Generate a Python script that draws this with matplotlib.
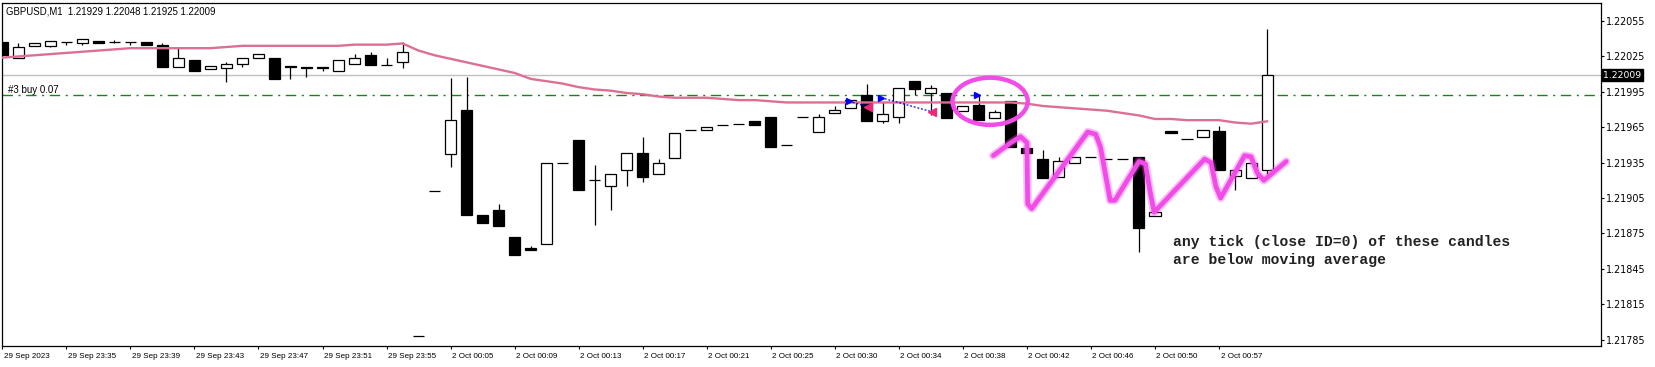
import numpy as np
import matplotlib
matplotlib.use("Agg")
import matplotlib.pyplot as plt
from matplotlib.patches import Ellipse
from matplotlib.transforms import blended_transform_factory, ScaledTranslation

# ---- data (GBPUSD M1) ----
opens = [1.22037, 1.22024, 1.22034, 1.22034, 1.22037, 1.22036, 1.22038, 1.22037, 1.22037, 1.22037,
         1.22035, 1.22016, 1.22022, 1.22014, 1.22015, 1.22019, 1.22024, 1.22024, 1.22017, 1.22016,
         1.22016, 1.22013, 1.22019, 1.22026, 1.22018, 1.22020, 1.21788, 1.21911, 1.21942, 1.21980,
         1.21891, 1.21895, 1.21872, 1.21863, 1.21866, 1.21935, 1.21954, 1.21920, 1.21915, 1.21929,
         1.21943, 1.21925, 1.21939, 1.21963, 1.21963, 1.21967, 1.21968, 1.21970, 1.21974, 1.21950,
         1.21974, 1.21961, 1.21977, 1.21981, 1.21992, 1.21970, 1.21974, 1.22004, 1.21994, 1.21994,
         1.21979, 1.21984, 1.21973, 1.21987, 1.21947, 1.21938, 1.21923, 1.21935, 1.21940, 1.21938,
         1.21938, 1.21940, 1.21890, 1.21962, 1.21955, 1.21957, 1.21962, 1.21924, 1.21922, 1.21929]
highs = [1.22037, 1.22036, 1.22036, 1.22038, 1.22037, 1.22040, 1.22038, 1.22039, 1.22037, 1.22037,
         1.22036, 1.22032, 1.22022, 1.22017, 1.22020, 1.22024, 1.22027, 1.22024, 1.22017, 1.22016,
         1.22016, 1.22022, 1.22027, 1.22029, 1.22024, 1.22037, 1.21788, 1.21911, 1.22007, 1.22008,
         1.21891, 1.21900, 1.21872, 1.21864, 1.21935, 1.21935, 1.21954, 1.21933, 1.21925, 1.21943,
         1.21957, 1.21938, 1.21960, 1.21963, 1.21965, 1.21967, 1.21968, 1.21970, 1.21974, 1.21950,
         1.21974, 1.21976, 1.21983, 1.21988, 1.22002, 1.21986, 1.21998, 1.22004, 1.22001, 1.21994,
         1.21983, 1.21992, 1.21980, 1.21987, 1.21947, 1.21946, 1.21940, 1.21940, 1.21940, 1.21938,
         1.21938, 1.21940, 1.21893, 1.21962, 1.21955, 1.21963, 1.21966, 1.21929, 1.21935, 1.22048]
lows = [1.22025, 1.22024, 1.22034, 1.22033, 1.22035, 1.22035, 1.22036, 1.22036, 1.22035, 1.22035,
        1.22016, 1.22016, 1.22013, 1.22014, 1.22003, 1.22016, 1.22024, 1.22006, 1.22006, 1.22008,
        1.22013, 1.22013, 1.22019, 1.22018, 1.22018, 1.22015, 1.21788, 1.21911, 1.21931, 1.21891,
        1.21884, 1.21881, 1.21857, 1.21861, 1.21866, 1.21935, 1.21912, 1.21882, 1.21895, 1.21915,
        1.21919, 1.21925, 1.21939, 1.21963, 1.21963, 1.21967, 1.21968, 1.21967, 1.21948, 1.21950,
        1.21974, 1.21961, 1.21977, 1.21981, 1.21970, 1.21969, 1.21969, 1.21992, 1.21975, 1.21973,
        1.21979, 1.21971, 1.21973, 1.21948, 1.21943, 1.21922, 1.21923, 1.21935, 1.21940, 1.21938,
        1.21938, 1.21859, 1.21890, 1.21960, 1.21955, 1.21957, 1.21929, 1.21912, 1.21922, 1.21925]
closes = [1.22026, 1.22033, 1.22036, 1.22038, 1.22037, 1.22040, 1.22036, 1.22037, 1.22037, 1.22035,
          1.22016, 1.22024, 1.22013, 1.22017, 1.22019, 1.22024, 1.22027, 1.22006, 1.22016, 1.22015,
          1.22015, 1.22022, 1.22024, 1.22018, 1.22018, 1.22029, 1.21788, 1.21911, 1.21971, 1.21891,
          1.21884, 1.21881, 1.21857, 1.21861, 1.21935, 1.21935, 1.21912, 1.21920, 1.21925, 1.21943,
          1.21923, 1.21935, 1.21960, 1.21963, 1.21965, 1.21967, 1.21968, 1.21967, 1.21948, 1.21950,
          1.21974, 1.21974, 1.21980, 1.21988, 1.21970, 1.21976, 1.21998, 1.21997, 1.21998, 1.21973,
          1.21983, 1.21971, 1.21978, 1.21948, 1.21943, 1.21922, 1.21936, 1.21940, 1.21940, 1.21938,
          1.21938, 1.21880, 1.21893, 1.21960, 1.21955, 1.21963, 1.21929, 1.21929, 1.21935, 1.22009]
ma = [1.22024, 1.22025, 1.22026, 1.22027, 1.22028, 1.22029, 1.22030, 1.22031, 1.22032, 1.22032,
      1.22032, 1.22032, 1.22032, 1.22032, 1.22033, 1.22034, 1.22034, 1.22034, 1.22034, 1.22034,
      1.22034, 1.22034, 1.22035, 1.22035, 1.22035, 1.22036, 1.22030, 1.22026, 1.22023, 1.22020,
      1.22017, 1.22014, 1.22011, 1.22006, 1.22004, 1.22002, 1.21999, 1.21997, 1.21996, 1.21994,
      1.21993, 1.21991, 1.21990, 1.21990, 1.21990, 1.21989, 1.21988, 1.21988, 1.21987, 1.21986,
      1.21986, 1.21986, 1.21986, 1.21986, 1.21986, 1.21986, 1.21986, 1.21986, 1.21986, 1.21986,
      1.21986, 1.21986, 1.21986, 1.21986, 1.21985, 1.21983, 1.21982, 1.21981, 1.21980, 1.21979,
      1.21977, 1.21975, 1.21972, 1.21972, 1.21971, 1.21971, 1.21971, 1.21969, 1.21968, 1.21970]

time_labels = ["29 Sep 2023", "29 Sep 23:35", "29 Sep 23:39", "29 Sep 23:43", "29 Sep 23:47",
               "29 Sep 23:51", "29 Sep 23:55", "2 Oct 00:05", "2 Oct 00:09", "2 Oct 00:13",
               "2 Oct 00:17", "2 Oct 00:21", "2 Oct 00:25", "2 Oct 00:30", "2 Oct 00:34",
               "2 Oct 00:38", "2 Oct 00:42", "2 Oct 00:46", "2 Oct 00:50", "2 Oct 00:57"]
price_ticks = [1.22055, 1.22025, 1.21995, 1.21965, 1.21935, 1.21905, 1.21875, 1.21845, 1.21815, 1.21785]

bid = 1.22009
position_price = 1.21992
position_label = "#3 buy 0.07"

# deals: bar position (fractional) and price
entry_x = [52.9, 54.9, 60.9]
entry_p = [1.21987, 1.21990, 1.21992]
exit_x = [54.1, 58.1]
exit_p = [1.21982, 1.21978]

# hand drawn pink scribble
scribble_x = [61.9, 63.0, 63.6, 64.0, 64.05, 64.3, 67.8, 68.3, 68.6, 69.2, 69.5, 71.0, 71.4, 71.7, 71.95,
              75.1, 75.5, 75.8, 76.1, 77.6, 78.0, 78.4, 78.8, 80.2]
scribble_p = [1.21941, 1.21952, 1.21957, 1.21952, 1.21900, 1.21896, 1.21961, 1.21959, 1.21948, 1.21903,
              1.21903, 1.21936, 1.21934, 1.21910, 1.21893, 1.21938, 1.21935, 1.21915, 1.21905, 1.21941,
              1.21940, 1.21926, 1.21920, 1.21936]

note_lines = ["any tick (close ID=0) of these candles", "are below moving average"]

# ---- figure ----
W, H = 1655, 367
fig = plt.figure(figsize=(W / 100, H / 100), dpi=100)
ax = fig.add_axes([2 / W, 21 / H, 1599 / W, 343 / H])
ax.set_xlim(-0.02, 99.86)
ax.set_ylim(1.217796, 1.220703)

x = np.arange(len(opens))
o = np.array(opens); c = np.array(closes)
up = c >= o
face = np.where(up, "white", "black")

# level lines under the candles
ax.axhline(bid, color="#c0c0c0", lw=1.0, zorder=1)
ax.axhline(position_price, color="#1f7f1f", lw=1.0, zorder=1,
           linestyle=(0, (7.5, 4.0, 1.5, 4.0)))

ax.vlines(x, lows, highs, color="black", lw=0.9, zorder=2)
ax.bar(x, np.abs(c - o), bottom=np.minimum(o, c), width=0.69, color=face,
       edgecolor="black", linewidth=0.9, zorder=3)

ax.plot(x, ma, color="#db7093", lw=1.7, zorder=4, solid_joinstyle="miter")

# trade arrows
for i in range(len(exit_x)):
    ax.plot([entry_x[i], exit_x[i]], [entry_p[i], exit_p[i]], color="blue", lw=0.9,
            linestyle=(0, (1.5, 1.5)), zorder=5)
ax.plot(entry_x, entry_p, linestyle="none", marker=">", ms=5, color="blue", zorder=6)
ax.plot(exit_x, exit_p, linestyle="none", marker="<", ms=6, color="#f0287a", zorder=6)

# scribble annotations
pink = "#f24ce8"
ax.plot(scribble_x, scribble_p, color=pink, lw=6, alpha=0.35, zorder=7,
        solid_joinstyle="round", solid_capstyle="round")
ax.plot(scribble_x, scribble_p, color=pink, lw=3.4, zorder=8,
        solid_joinstyle="round", solid_capstyle="round")
ell = Ellipse((61.7, 1.21987), 4.7, 0.00040, angle=0, fill=False, edgecolor=pink, lw=3.2, zorder=8)
ax.add_patch(ell)

ax.text(73.1, 1.218677, note_lines[0], family="Liberation Mono", weight="bold",
        fontsize=10.6, color="#222222", va="center", ha="left", zorder=9)
ax.text(73.1, 1.218525, note_lines[1], family="Liberation Mono", weight="bold",
        fontsize=10.6, color="#222222", va="center", ha="left", zorder=9)

# header and position label
ax.text(4 / 1599, 1 - 8 / 343, "GBPUSD,M1  %.5f %.5f %.5f %.5f" % (opens[-1], highs[-1], lows[-1], closes[-1]),
        transform=ax.transAxes, fontsize=6.9, family="Liberation Sans", va="center", ha="left")
ax.text(0.004, position_price, position_label, transform=blended_transform_factory(ax.transAxes, ax.transData),
        fontsize=7.0, family="Liberation Sans", va="bottom", ha="left")
ax.annotate("%.5f" % bid, xy=(1.0, bid), xycoords=blended_transform_factory(ax.transAxes, ax.transData),
            xytext=(1.5, 0), textcoords="offset points", fontsize=6.7, family="DejaVu Sans",
            color="white", va="center", ha="left",
            bbox=dict(boxstyle="square,pad=0.15", fc="black", ec="black"))

# axes styling
for s in ax.spines.values():
    s.set_linewidth(0.9)
    s.set_color("black")
ax.yaxis.tick_right()
ax.set_yticks(price_ticks)
ax.set_yticklabels(["%.5f" % p for p in price_ticks])
ax.tick_params(axis="y", direction="out", length=2.2, width=0.8, labelsize=6.9, pad=1.0)
ax.set_xticks(np.arange(0, 4 * len(time_labels), 4))
ax.set_xticklabels(time_labels)
ax.tick_params(axis="x", direction="out", length=2.5, width=0.8, labelsize=5.8, pad=2.5)
for lab in ax.get_xticklabels():
    lab.set_ha("left")
    lab.set_family("Liberation Sans")
    lab.set_transform(lab.get_transform() + ScaledTranslation(1.5 / 100, 0, fig.dpi_scale_trans))
for lab in ax.get_yticklabels():
    lab.set_family("DejaVu Sans")

fig.savefig("out.png", dpi=100, facecolor="white")
